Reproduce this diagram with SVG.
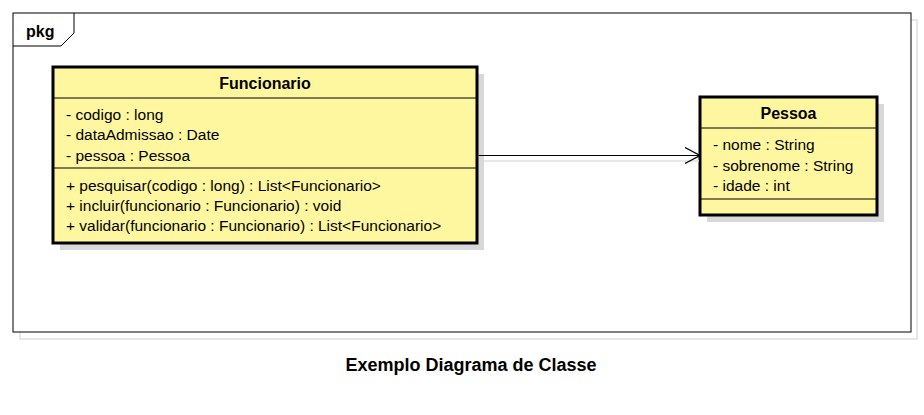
<svg xmlns="http://www.w3.org/2000/svg" width="924" height="415" viewBox="0 0 924 415">
<style>
.t{font-family:"Liberation Sans",Arial,sans-serif;font-size:15.5px;fill:#000}
.h{font-family:"Liberation Sans",Arial,sans-serif;font-size:16px;font-weight:bold;fill:#000}
.title{font-family:"Liberation Sans",Arial,sans-serif;font-size:18px;font-weight:bold;fill:#000}
.box{fill:#fff7a0;stroke:#000;stroke-width:3}
.div{stroke:#000;stroke-width:1.2}
.sh{fill:#d8d8d8}
.frm{fill:none;stroke:#000;stroke-width:1}
.frsh{fill:none;stroke:#e0e0e0;stroke-width:1.5}
</style>
<defs>
<marker id="open" viewBox="0 0 16 18" refX="15" refY="9" markerWidth="16" markerHeight="18" markerUnits="userSpaceOnUse" orient="auto">
<path d="M0,1 L15,9 L0,17" fill="none" stroke="#000" stroke-width="1.2"/>
</marker>
</defs>
<rect width="924" height="415" fill="#fff"/>
<g id="pkg">
<path class="frsh" d="M20,20 H917 V339 H20 Z"/>
<rect x="13" y="13" width="898" height="319" fill="#fff" stroke="#000"/>
<path class="frm" d="M13,46 H61 L74,33 V13"/>
<text class="h" x="26" y="37">pkg</text>
</g>
<g id="Funcionario">
<rect class="sh" x="60" y="74" width="424" height="176"/>
<rect class="box" x="53" y="67" width="424" height="176"/>
<line class="div" x1="53" y1="98" x2="477" y2="98"/>
<line class="div" x1="53" y1="168" x2="477" y2="168"/>
<text class="h" x="265" y="89" text-anchor="middle">Funcionario</text>
<text class="t" x="66" y="120">- codigo : long</text>
<text class="t" x="66" y="140">- dataAdmissao : Date</text>
<text class="t" x="66" y="161">- pessoa : Pessoa</text>
<text class="t" x="66" y="191">+ pesquisar(codigo : long) : List&lt;Funcionario&gt;</text>
<text class="t" x="66" y="211">+ incluir(funcionario : Funcionario) : void</text>
<text class="t" x="66" y="231">+ validar(funcionario : Funcionario) : List&lt;Funcionario&gt;</text>
</g>
<g id="Pessoa">
<rect class="sh" x="707" y="104" width="177" height="118"/>
<rect class="box" x="700" y="97" width="177" height="118"/>
<line class="div" x1="700" y1="128" x2="877" y2="128"/>
<line class="div" x1="700" y1="199" x2="877" y2="199"/>
<text class="h" x="788.5" y="119" text-anchor="middle">Pessoa</text>
<text class="t" x="713" y="150">- nome : String</text>
<text class="t" x="713" y="171">- sobrenome : String</text>
<text class="t" x="713" y="191">- idade : int</text>
</g>
<g id="connectors">
<line x1="484" y1="161" x2="699" y2="161" stroke="#e0e0e0" stroke-width="1.5"/>
<line x1="478.5" y1="155.5" x2="700" y2="155.5" stroke="#000" stroke-width="1.2" marker-end="url(#open)"/>
</g>
<text class="title" x="471" y="371" text-anchor="middle">Exemplo Diagrama de Classe</text>
</svg>
